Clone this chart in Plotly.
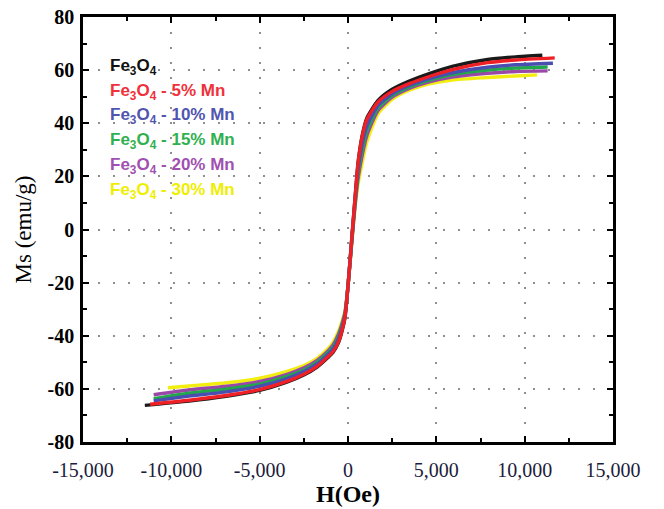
import plotly.graph_objects as go

# ---- data ----
H_inner = [-9000, -7000, -5000, -3500, -2500, -1750, -1150, -850, -550, -340, -170, -60,
           100, 230, 400, 570, 800, 1070, 1700, 2500, 3500, 4600, 5900, 7900, 9500]

series_names = ["Fe<sub>3</sub>O<sub>4</sub>",
                "Fe<sub>3</sub>O<sub>4</sub> - 5% Mn",
                "Fe<sub>3</sub>O<sub>4</sub> - 10% Mn",
                "Fe<sub>3</sub>O<sub>4</sub> - 15% Mn",
                "Fe<sub>3</sub>O<sub>4</sub> - 20% Mn",
                "Fe<sub>3</sub>O<sub>4</sub> - 30% Mn"]

H_start = [-11500, -11200, -11000, -11000, -11000, -10200]
H_end = [11000, 11700, 11600, 11300, 11300, 10700]

M_fe3o4 = [-66.2, -64.6, -62.9, -60.6, -57.6, -54.8, -51.8, -48.3, -46.3, -42.8, -38.3, -33.2, -26.0,
           -13.0, -2.0, 12.0, 25.2, 35.3, 42.0, 48.6, 52.8, 56.0, 58.7, 61.4, 64.0, 65.0, 65.6]
M_mn5 = [-65.8, -64.3, -62.6, -60.3, -57.3, -54.5, -51.5, -48.0, -46.0, -42.5, -38.0, -33.0, -26.0,
         -13.0, -2.0, 12.0, 25.0, 35.0, 41.5, 48.0, 52.0, 55.0, 57.6, 60.2, 62.8, 63.8, 64.6]
M_mn10 = [-64.5, -62.7, -61.2, -59.0, -56.2, -53.5, -50.6, -47.1, -45.0, -41.3, -37.0, -32.3, -25.7,
          -13.3, -2.6, 10.8, 22.6, 32.0, 39.0, 46.7, 51.1, 54.3, 56.8, 59.0, 61.1, 62.0, 62.6]
M_mn15 = [-63.7, -61.6, -60.2, -58.2, -55.4, -52.9, -50.0, -46.5, -44.3, -40.5, -36.3, -31.8, -25.5,
          -13.5, -3.0, 10.0, 21.0, 30.0, 37.3, 45.8, 50.5, 53.8, 56.2, 58.3, 60.0, 60.8, 61.2]
M_mn20 = [-62.2, -60.4, -59.1, -57.2, -54.6, -52.1, -49.3, -45.8, -43.5, -39.6, -35.5, -31.2, -25.3,
          -13.7, -3.4, 9.1, 19.2, 27.8, 35.4, 44.8, 49.8, 53.2, 55.6, 57.4, 58.8, 59.5, 59.7]
M_mn30 = [-59.6, -58.9, -57.8, -56.0, -53.5, -51.2, -48.5, -45.0, -42.5, -38.5, -34.5, -30.5, -25.0,
          -14.0, -4.0, 8.0, 17.0, 25.0, 33.0, 43.5, 49.0, 52.5, 54.8, 56.3, 57.2, 57.8, 58.2]

M_all = [M_fe3o4, M_mn5, M_mn10, M_mn15, M_mn20, M_mn30]
line_colors = ["#1a1a1a", "#ee2026", "#4a4eb0", "#22a84a", "#9a48a8", "#f2ee10"]
text_colors = ["#111111", "#f0303a", "#5055b0", "#30b050", "#a050b0", "#f0ee00"]

x_tick_vals = [-15000, -10000, -5000, 0, 5000, 10000, 15000]
x_tick_text = ["-15,000", "-10,000", "-5,000", "0", "5,000", "10,000", "15,000"]
y_tick_vals = [-80, -60, -40, -20, 0, 20, 40, 60, 80]
y_tick_text = ["-80", "-60", "-40", "-20", "0", "20", "40", "60", "80"]

fig = go.Figure()
draw_order = [0, 5, 4, 3, 2, 1]
for i in draw_order:
    H = [H_start[i]] + H_inner + [H_end[i]]
    fig.add_trace(go.Scatter(x=H, y=M_all[i], mode="lines", name=series_names[i],
                             line=dict(color=line_colors[i], width=3.4, shape="spline",
                                       smoothing=0.6),
                             showlegend=False))

# legend as coloured text
leg_y = [67, 92, 116, 141, 166, 191]
for i, name in enumerate(series_names):
    fig.add_annotation(xref="paper", yref="paper", x=(108 - 83) / 530, y=(442 - leg_y[i]) / 425,
                       xanchor="left", yanchor="middle", showarrow=False, text="<b>" + name + "</b>",
                       font=dict(family="Liberation Sans, Arial", size=17, color=text_colors[i]))

axis_common = dict(showline=True, linecolor="black", linewidth=2.5, mirror="ticks",
                   ticks="inside", ticklen=6, tickwidth=2, tickcolor="black",
                   showgrid=True, gridcolor="#8f8f8f", gridwidth=2, griddash="2px,13px",
                   zeroline=False, automargin=False)

fig.update_xaxes(range=[-15000, 15000], tickvals=x_tick_vals, ticktext=x_tick_text,
                 minor=dict(dtick=2500, ticks="inside", ticklen=4, tickwidth=2,
                            tickcolor="black", showgrid=False),
                 tickfont=dict(family="Liberation Serif, Times New Roman", size=20, color="#1c1c3c"),
                 ticklabelstandoff=8,
                 title=dict(text="<b>H(Oe)</b>", standoff=2,
                            font=dict(family="Liberation Serif, Times New Roman", size=24, color="black")),
                 **axis_common)
fig.update_yaxes(range=[-80, 80], tickvals=y_tick_vals, ticktext=y_tick_text,
                 minor=dict(dtick=10, ticks="inside", ticklen=4, tickwidth=2,
                            tickcolor="black", showgrid=False),
                 tickfont=dict(family="Liberation Serif, Times New Roman", size=20, color="black",
                               weight="bold"),
                 ticklabelstandoff=2,
                 title=dict(text="Ms (emu/g)", standoff=10,
                            font=dict(family="Liberation Serif, Times New Roman", size=23, color="black")),
                 **axis_common)

fig.update_layout(width=664, height=509, margin=dict(l=83, r=51, t=17, b=67),
                  plot_bgcolor="white", paper_bgcolor="white", showlegend=False)

fig.write_html("out.html", config={"displayModeBar": False},
               post_script="document.body.style.margin='0px';document.body.style.overflow='hidden';")
